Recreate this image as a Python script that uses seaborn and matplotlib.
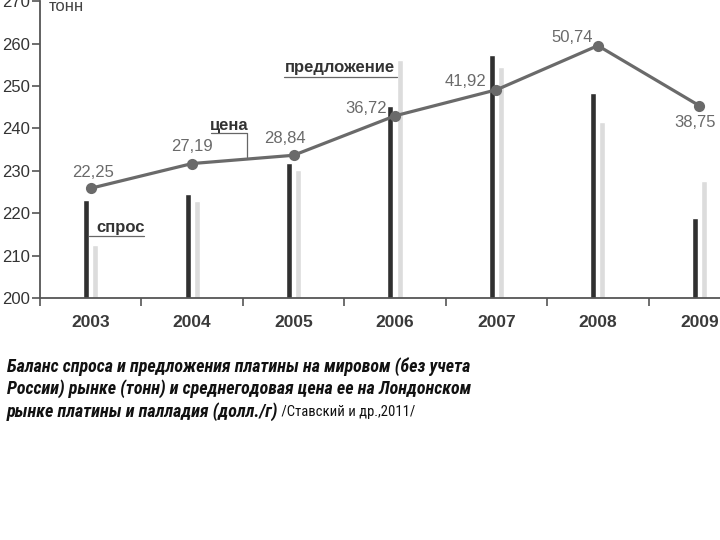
import matplotlib
matplotlib.use('Agg')
import matplotlib.pyplot as plt
from matplotlib.ticker import FixedLocator
import seaborn as sns
import pandas as pd
import numpy as np

years = ['2003', '2004', '2005', '2006', '2007', '2008', '2009']
demand = [223.1, 224.6, 231.8, 245.4, 257.3, 248.3, 218.8]   # спрос, тонн
supply = [212.5, 223.0, 230.1, 256.2, 254.6, 241.5, 227.6]   # предложение, тонн
price = [22.25, 27.19, 28.84, 36.72, 41.92, 50.74, 38.75]    # цена, долл./г
price_labels = ['22,25', '27,19', '28,84', '36,72', '41,92', '50,74', '38,75']
yticks = [200, 210, 220, 230, 240, 250, 260, 270]
caption = ['Баланс спроса и предложения платины на мировом (без учета',
           'России) рынке (тонн) и среднегодовая цена ее на Лондонском',
           'рынке платины и палладия (долл./г)']
source = ' /Ставский и др.,2011/'

sns.set_theme(style='white')
plt.rcParams['font.family'] = ['Liberation Sans', 'DejaVu Sans']

W, H = 720, 540
fig = plt.figure(figsize=(7.2, 5.4), dpi=100)
ax = fig.add_axes([40 / W, 1 - 298 / H, 710 / W, 296.7 / H])

df = pd.DataFrame({'year': years * 2,
                   'value': demand + supply,
                   'series': ['спрос'] * len(years) + ['предложение'] * len(years)})
sns.barplot(data=df, x='year', y='value', hue='series',
            hue_order=['спрос', 'предложение'],
            palette=['#303030', '#dcdcdc'], saturation=1,
            width=0.18, gap=0.33, errorbar=None, legend=False, ax=ax)

ax.set_ylim(200, 270)
ax.set_xlim(-0.5, 6.5)
ax.set_xlabel('')
ax.set_ylabel('')
ax.set_yticks(yticks)
ax.set_yticklabels([str(v) for v in yticks])
for s in ['top', 'right']:
    ax.spines[s].set_visible(False)
for s in ['left', 'bottom']:
    ax.spines[s].set_color('#555555')
    ax.spines[s].set_linewidth(1.3)
ax.tick_params(axis='y', which='major', left=True, direction='out', length=5.5,
               width=1.2, color='#555555', labelsize=12, labelcolor='#333333', pad=1.5)
ax.tick_params(axis='x', which='major', bottom=False, length=0, labelsize=12.5,
               labelcolor='#3a3a3a', pad=12)
for lab in ax.get_xticklabels():
    lab.set_fontweight('bold')
ax.xaxis.set_minor_locator(FixedLocator(np.arange(-0.5, 6.0, 1.0)))
ax.tick_params(axis='x', which='minor', bottom=True, direction='out', length=6,
               width=1.2, color='#555555')

ax.text(-0.41, 268.7, 'тонн', fontsize=12, color='#444444', va='center', ha='left')

# price line on a hidden twin scale
ax2 = ax.twinx()
sns.pointplot(x=years, y=price, color='#6a6a6a', markers='o', markersize=6.3,
              linewidth=2.3, errorbar=None, ax=ax2)
ax2.set_xlim(-0.5, 6.5)
ax2.set_ylim(0.33, 59.6)
ax2.set_yticks([])
ax2.set_ylabel('')
for s in ax2.spines.values():
    s.set_visible(False)
ax2.tick_params(axis='both', which='both', length=0)

offsets = [(2, 16), (0, 17), (-9, 17), (-29, 7), (-31, 8), (-26, 8), (-4, -17)]
for i, (lab, p) in enumerate(zip(price_labels, price)):
    ax2.annotate(lab, xy=(i, p), xytext=offsets[i], textcoords='offset pixels',
                 ha='center', va='center', fontsize=12, color='#6a6a6a')

# labels with leader lines
lc = '#666666'
ax.text(1.363, 240.8, 'цена', fontsize=12, fontweight='bold', color='#333333',
        ha='center', va='center')
ax.plot([1.186, 1.541, 1.541], [238.9, 238.9, 233.3], color=lc, lw=0.9)
ax.text(2.458, 254.3, 'предложение', fontsize=12, fontweight='bold', color='#333333',
        ha='center', va='center')
ax.plot([1.906, 3.02], [252.1, 252.1], color=lc, lw=0.9)
ax.text(0.299, 216.75, 'спрос', fontsize=12, fontweight='bold', color='#333333',
        ha='center', va='center')
ax.plot([-0.017, 0.525], [214.6, 214.6], color=lc, lw=0.9)

# caption
cap_fam = ['Liberation Sans Narrow', 'DejaVu Sans Condensed', 'Roboto Condensed',
           'DejaVu Sans']
ys = [367, 389, 412]
last = None
for line, y in zip(caption, ys):
    last = fig.text(7 / W, 1 - y / H, line, fontsize=13, fontweight='bold',
                    fontstyle='italic', fontstretch='condensed',
                    color='#111111', va='center', ha='left', family=cap_fam)
ax.annotate(source, xy=(1, 0.5), xycoords=last, va='center', ha='left',
            fontsize=10.5, color='#111111', family=cap_fam, fontstretch='condensed')

fig.savefig('out.png', dpi=100)
